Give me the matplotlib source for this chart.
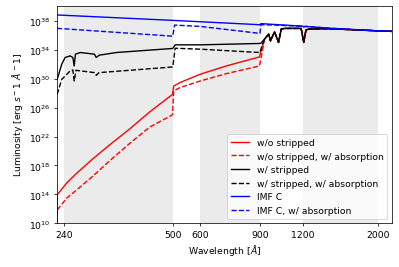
import matplotlib
matplotlib.use("Agg")
import matplotlib.pyplot as plt
import numpy as np
from matplotlib.ticker import NullLocator, FixedLocator

# tail shared by all stripped curves once they merge past 900 A
tail_wl = [927, 954, 965, 992, 1019, 1038, 1061, 1187, 1208, 1227, 1255, 1400, 1600, 2000, 2193]
tail_L = [10**35.46, 10**36.15, 10**35.22, 10**36.47, 10**35.0, 10**36.85, 10**36.94, 10**36.94,
          10**35.0, 10**36.75, 10**36.85, 10**36.9, 10**36.8, 10**36.6, 10**36.53]

red_wl = [228.4, 228.6, 244, 260.5, 290.6, 325, 372, 427, 498, 502, 523, 600, 716, 896, 910]
red_L = [1e5, 10**13.93, 10**15.6, 10**16.9, 10**18.9, 10**20.8, 10**23.0, 10**25.4, 10**27.82,
         10**28.97, 10**29.44, 10**30.6, 10**31.75, 10**33.0, 10**34.2]

redabs_wl = [228.6, 244, 260.5, 290.6, 325, 372, 427, 498, 502, 523, 600, 716, 896, 912]
redabs_L = [10**11.85, 10**13.5, 10**14.6, 10**16.5, 10**18.6, 10**21.0, 10**23.3, 10**25.0,
            10**28.3, 10**28.75, 10**29.67, 10**30.69, 10**31.75, 10**33.6]

blk_wl = [228.6, 235.7, 241.2, 249.4, 254.1, 256.4, 258.6, 267, 294, 297.5, 303.6, 341,
          499, 507, 600, 899, 905]
blk_L = [10**29.9, 10**31.99, 10**32.92, 10**33.14, 10**32.92, 10**31.75, 10**33.38, 10**33.61,
         10**33.38, 10**32.92, 10**33.24, 10**33.61, 10**34.17, 10**34.67, 10**34.67,
         10**34.86, 10**34.9]

blkabs_wl = [228.6, 235.7, 241.2, 249.4, 254.1, 256.4, 259.5, 294, 297.5, 303.6,
             499, 507, 600, 899, 912]
blkabs_L = [10**27.82, 10**29.9, 10**30.36, 10**31.06, 10**31.2, 10**29.67, 10**31.15,
            10**30.83, 10**30.46, 10**30.83, 10**31.61, 10**34.2, 10**34.07, 10**33.61, 10**34.6]

imf_wl = [228.4, 500, 899, 905, 1200, 1208, 1220, 1435, 2000, 2193]
imf_L = [10**38.8, 10**38.05, 10**37.45, 10**37.6, 10**37.25, 10**37.15, 10**37.22,
         10**36.97, 10**36.6, 10**36.53]

imfabs_wl = [228.4, 499, 505, 600, 899, 905, 1000, 1100, 1200, 1208, 1220, 1435, 2000, 2193]
imfabs_L = [10**36.95, 10**35.87, 10**37.4, 10**37.22, 10**36.25, 10**37.45, 10**37.4,
            10**37.3, 10**37.25, 10**37.15, 10**37.22, 10**36.97, 10**36.6, 10**36.53]

bands = [(240, 500), (600, 900), (1200, 2000)]
xticks = [240, 500, 600, 900, 1200, 2000]


def main():
    fig = plt.figure(figsize=(6, 4.03), dpi=66.5)
    ax = fig.add_axes([0.143, 0.163, 0.8395, 0.812])

    for lo, hi in bands:
        ax.axvspan(lo, hi, color='#ebebeb', zorder=0, lw=0)

    ax.plot(red_wl + tail_wl, red_L + tail_L, color='r', label='w/o stripped')
    ax.plot(redabs_wl + tail_wl, redabs_L + tail_L, color='r', ls='--',
            label='w/o stripped, w/ absorption')
    ax.plot(blk_wl + tail_wl, blk_L + tail_L, color='k', label='w/ stripped')
    ax.plot(blkabs_wl + tail_wl, blkabs_L + tail_L, color='k', ls='--',
            label='w/ stripped, w/ absorption')
    ax.plot(imf_wl, imf_L, color='b', label='IMF C')
    ax.plot(imfabs_wl, imfabs_L, color='b', ls='--', label='IMF C, w/ absorption')

    ax.set_xscale('log')
    ax.set_yscale('log')
    ax.set_xlim(228.4, 2193)
    ax.set_ylim(1e10, 1.2e40)
    ax.xaxis.set_major_locator(FixedLocator(xticks))
    ax.set_xticklabels([str(t) for t in xticks])
    ax.xaxis.set_minor_locator(NullLocator())
    ax.yaxis.set_major_locator(FixedLocator([10.0**k for k in range(10, 39, 4)]))
    ax.yaxis.set_minor_locator(NullLocator())

    ax.set_xlabel(r'Wavelength [$\AA$]')
    ax.set_ylabel(r'Luminosity [erg $s^-1$ $\AA^-1$]')
    ax.legend(loc='lower right')

    fig.savefig('out.png', dpi=66.5)


if __name__ == '__main__':
    main()
